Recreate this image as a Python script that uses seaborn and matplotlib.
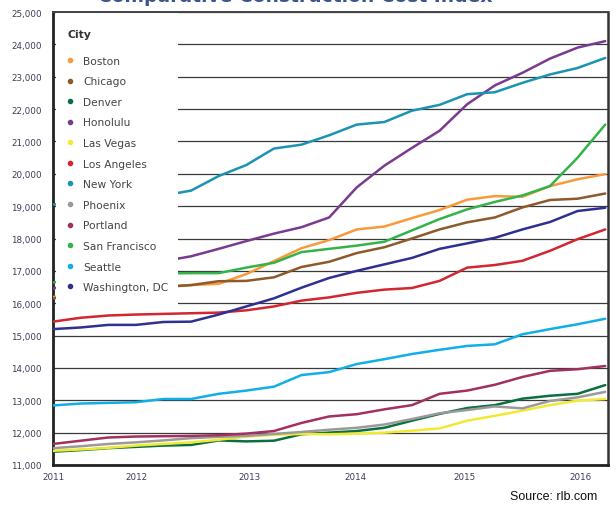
import matplotlib
matplotlib.use("Agg")
import matplotlib.pyplot as plt
from matplotlib.lines import Line2D
from matplotlib.patches import Rectangle
import seaborn as sns
import pandas as pd
import numpy as np

# ---- data (quarterly index values, 2011 Q1 .. 2016 Q1) ----
quarters = list(range(21))
boston       = [16190,16300,16400,16480,16530,16560,16600,16900,17300,17700,17950,18280,18370,18630,18880,19200,19310,19290,19620,19830,19990]
chicago      = [16150,16250,16350,16450,16500,16560,16680,16690,16800,17120,17280,17550,17730,18000,18280,18500,18650,18960,19190,19230,19390]
denver       = [11410,11460,11520,11560,11600,11620,11760,11730,11750,11950,12000,12050,12150,12370,12580,12760,12850,13050,13140,13200,13470]
honolulu     = [16450,16700,16900,17100,17300,17450,17680,17920,18150,18350,18650,19580,20250,20800,21330,22150,22730,23120,23560,23900,24100]
las_vegas    = [11440,11480,11530,11600,11650,11700,11780,11880,11930,11960,11950,11970,12000,12060,12130,12370,12520,12680,12850,12990,13040]
los_angeles  = [15430,15550,15620,15650,15670,15690,15710,15780,15900,16080,16180,16320,16420,16470,16690,17100,17180,17310,17620,17980,18280]
new_york     = [19050,19100,19150,19250,19330,19480,19930,20270,20780,20900,21190,21520,21600,21950,22130,22460,22520,22810,23070,23270,23580]
phoenix      = [11520,11580,11650,11700,11760,11830,11870,11900,11960,12020,12090,12150,12250,12420,12600,12700,12810,12750,12980,13090,13260]
portland     = [11650,11750,11850,11880,11890,11900,11920,11970,12050,12300,12500,12570,12720,12850,13200,13300,13480,13720,13910,13960,14060]
san_francisco= [16640,16750,16830,16880,16920,16930,16930,17100,17250,17580,17680,17780,17900,18250,18600,18900,19130,19330,19620,20500,21520]
seattle      = [12840,12900,12920,12940,13040,13040,13200,13300,13420,13780,13870,14120,14270,14430,14560,14680,14730,15040,15200,15350,15520]
washington   = [15200,15250,15330,15330,15420,15430,15650,15900,16150,16480,16780,17000,17200,17400,17680,17850,18020,18280,18510,18850,18950]

cities = ["Boston","Chicago","Denver","Honolulu","Las Vegas","Los Angeles","New York",
          "Phoenix","Portland","San Francisco","Seattle","Washington, DC"]
series = [boston,chicago,denver,honolulu,las_vegas,los_angeles,new_york,
          phoenix,portland,san_francisco,seattle,washington]
colors = ["#f99a3a","#8c5a2b","#0a7040","#7a3b8f","#f2e935","#d22630","#1b93b3",
          "#9a9a9a","#a3305f","#35b34a","#11aee8","#2e318f"]

year_labels = ["2011","2012","2013","2014","2015","2016"]
year_label_pos = [0, 3.03, 7.1, 10.95, 14.9, 19.1]

df = pd.DataFrame({
    "q": np.tile(quarters, len(cities)),
    "value": np.concatenate(series),
    "City": np.repeat(cities, len(quarters)),
})

sns.set_style("white")
fig = plt.figure(figsize=(6.16, 5.10), dpi=100)
ax = fig.add_axes([53/616, 1-466/510, (608-53)/616, (466-13)/510])

sns.lineplot(data=df, x="q", y="value", hue="City", hue_order=cities,
             palette=dict(zip(cities, colors)), linewidth=1.8, legend=False,
             ax=ax, zorder=3)

ax.set_xlim(0, 20.1)
ax.set_ylim(11000, 25000)
yt = list(range(11000, 25001, 1000))
ax.set_yticks(yt)
ax.set_yticklabels([f"{v:,}" for v in yt], fontsize=6.3, color="#3c3c5a")
ax.yaxis.grid(True, color="#3a3a3a", linewidth=0.9)
ax.set_axisbelow(True)
ax.tick_params(axis="y", direction="in", length=3, width=1, color="#222", pad=8)

ax.set_xticks(year_label_pos)
ax.set_xticklabels(year_labels, fontsize=6.3, color="#3c3c5a")
ax.set_xticks(np.arange(0, 20.01, 1/3), minor=True)
ax.tick_params(axis="x", which="major", length=0, pad=5)
ax.tick_params(axis="x", which="minor", direction="out", length=4, width=0.9, color="#222")
ax.set_xlabel("")
ax.set_ylabel("")

for side in ["left", "bottom"]:
    ax.spines[side].set_color("#222")
    ax.spines[side].set_linewidth(2.0)
ax.spines["right"].set_color("#333")
ax.spines["right"].set_linewidth(1.8)
ax.spines["top"].set_color("#444")
ax.spines["top"].set_linewidth(1.4)

# white legend panel covering the upper-left corner
ax.add_patch(Rectangle((0.006, 0.349), 0.219, 0.648, transform=ax.transAxes,
                       facecolor="white", edgecolor="none", zorder=5))
handles = [Line2D([0], [0], marker="o", linestyle="none", markersize=3,
                  markerfacecolor=c, markeredgecolor=c) for c in colors]
leg = ax.legend(handles, cities, loc="upper left",
                bbox_to_anchor=(0.012, 0.913), frameon=False, fontsize=7.7,
                labelspacing=0.99, handletextpad=0.6, handlelength=1.2,
                borderaxespad=0.0)
for t in leg.get_texts():
    t.set_color("#444")
leg.set_zorder(6)
ax.text(0.027, 0.951, "City", transform=ax.transAxes, ha="left", va="center",
        fontsize=7.8, fontweight="bold", color="#333", zorder=7)

fig.text(0.48, 0.9965, "Comparative Construction Cost Index", ha="center",
         va="baseline", fontsize=13.5, fontweight="bold", color="#3a558f")
fig.text(0.97, 0.014, "Source: rlb.com", ha="right", va="bottom",
         fontsize=9, color="#111", family="Liberation Sans")

fig.savefig("out.png", dpi=100)
